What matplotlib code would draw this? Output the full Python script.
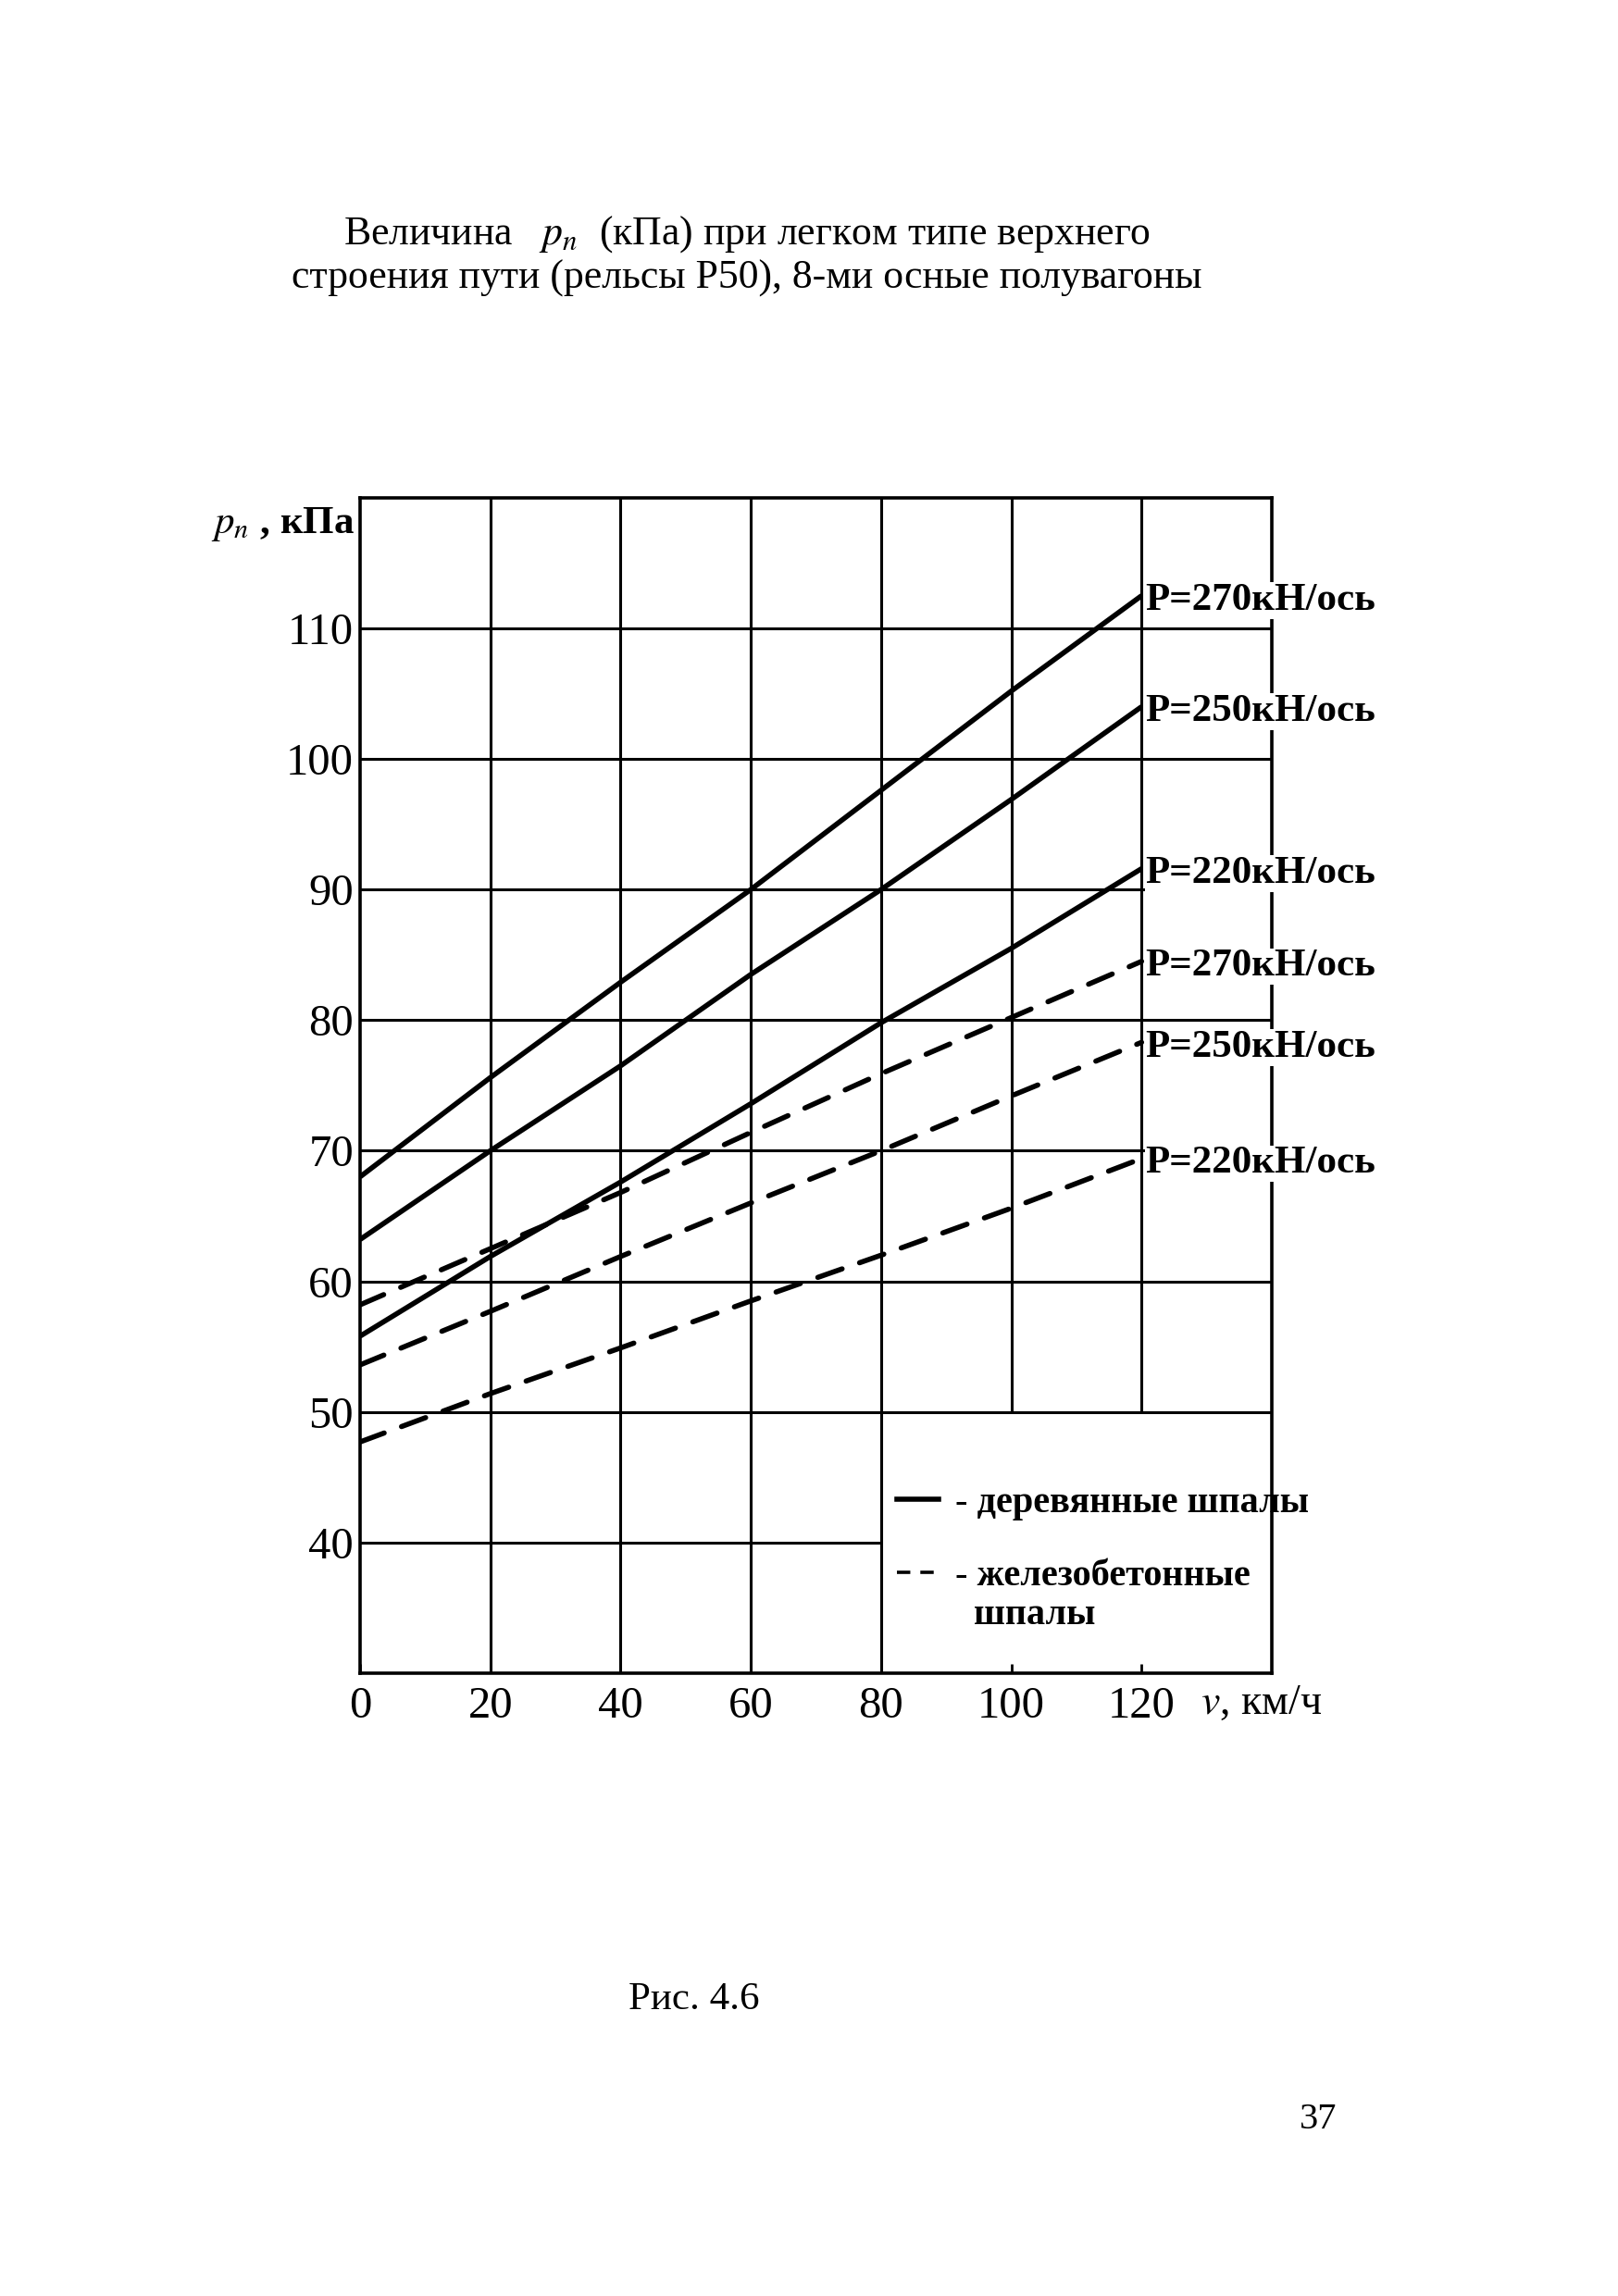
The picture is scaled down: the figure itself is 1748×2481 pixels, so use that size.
import matplotlib
matplotlib.use("Agg")
import matplotlib.pyplot as plt
from matplotlib.lines import Line2D

plt.rcParams['font.family'] = ['Liberation Serif', 'DejaVu Serif']
plt.rcParams['mathtext.fontset'] = 'stix'

# ---- data ----
speed = [0, 20, 40, 60, 80, 100, 120]           # v, km/h
wood_270 = [68.0, 75.6, 82.9, 90.0, 97.6, 105.2, 112.5]
wood_250 = [63.2, 70.0, 76.5, 83.5, 90.0, 96.9, 104.0]
wood_220 = [55.8, 61.9, 67.6, 73.6, 79.8, 85.5, 91.6]
conc_270 = [58.2, 62.5, 66.8, 71.4, 75.9, 80.2, 84.5]
conc_250 = [53.6, 57.7, 61.9, 66.0, 70.0, 74.2, 78.3]
conc_220 = [47.7, 51.4, 54.9, 58.5, 62.0, 65.6, 69.4]
load_labels = ["P=270кН/ось", "P=250кН/ось", "P=220кН/ось"]

x_ticks = [0, 20, 40, 60, 80, 100, 120]
y_ticks = [40, 50, 60, 70, 80, 90, 100, 110]

# grid layout of the nomogram
v_full = [20, 40, 60, 80]
v_part = [100, 120]
h_full = [50, 60, 70, 80, 90, 100, 110]
h_part = [40]

fig = plt.figure(figsize=(17.49, 24.81), dpi=100)
ax = fig.add_axes([0.2224, 0.2713, 0.5632, 0.5119])
ax.set_xlim(0, 140)
ax.set_ylim(30, 120)

LW_GRID = 2.2
LW_LINE = 4.0
for s in ax.spines.values():
    s.set_linewidth(2.6)
    s.set_zorder(3)

ax.vlines(v_full, 30, 120, colors='black', lw=LW_GRID, zorder=1)
ax.vlines(v_part, 50, 120, colors='black', lw=LW_GRID, zorder=1)
ax.hlines(h_full, 0, 140, colors='black', lw=LW_GRID, zorder=1)
ax.hlines(h_part, 0, 80, colors='black', lw=LW_GRID, zorder=1)

dash = (0, (5.0, 3.6))
wood = [wood_270, wood_250, wood_220]
conc = [conc_270, conc_250, conc_220]
LBL_FS = 31
for series, lab in zip(wood, load_labels):
    ax.plot(speed, series, color='black', lw=LW_LINE, solid_capstyle='butt', zorder=4)
    ax.annotate(lab, (speed[-1], series[-1]), xytext=(3, -4), textcoords='offset points',
                ha='left', va='center', fontsize=LBL_FS, fontweight='bold',
                bbox=dict(facecolor='white', edgecolor='none', pad=0.5),
                annotation_clip=False, zorder=6)
for series, lab in zip(conc, load_labels):
    ax.plot(speed, series, color='black', lw=LW_LINE, linestyle=dash,
            dash_capstyle='round', zorder=4)
    ax.annotate(lab, (speed[-1], series[-1]), xytext=(3, -4), textcoords='offset points',
                ha='left', va='center', fontsize=LBL_FS, fontweight='bold',
                bbox=dict(facecolor='white', edgecolor='none', pad=0.5),
                annotation_clip=False, zorder=6)

ax.set_xticks(x_ticks)
ax.set_xticklabels([str(t) for t in x_ticks])
ax.set_yticks(y_ticks)
ax.set_yticklabels([str(t) for t in y_ticks])
ax.tick_params(direction='in', length=7, width=2, labelsize=35, top=False, right=False)
ax.tick_params(axis='x', pad=10)
ax.tick_params(axis='y', pad=5)

# axis titles
ax.text(-0.8, 118.0, r"$p_n$ , кПа", ha='right', va='center', fontsize=31, fontweight='bold')
ax.annotate(r"$v$, км/ч", (129.0, 30), xytext=(0, -24), textcoords='offset points',
            ha='left', va='center', fontsize=33, annotation_clip=False)

# legend
handles = [Line2D([], [], color='black', lw=LW_LINE),
           Line2D([], [], color='black', lw=2.6, linestyle=(0, (4.0, 3.0)))]
leg = ax.legend(handles, ["- деревянные шпалы", "- железобетонные"],
                loc='upper left', bbox_to_anchor=(82.5, 44.3), bbox_transform=ax.transData,
                frameon=False, prop={'weight': 'bold', 'size': 29},
                handlelength=1.1, handletextpad=0.45, labelspacing=1.03, borderaxespad=0,
                borderpad=0)
ax.text(94.2, 34.4, "шпалы", ha='left', va='center', fontsize=29, fontweight='bold')

fig.text(807 / 1749, 1 - 253 / 2481, "Величина   $p_n$  (кПа) при легком типе верхнего",
         ha='center', va='center', fontsize=31.5)
fig.text(807 / 1749, 1 - 301 / 2481, "строения пути (рельсы Р50), 8-ми осные полувагоны",
         ha='center', va='center', fontsize=31.5)
fig.text(750 / 1749, 1 - 2161 / 2481, "Рис. 4.6", ha='center', va='center', fontsize=31)
fig.text(1424 / 1749, 1 - 2290 / 2481, "37", ha='center', va='center', fontsize=29)

fig.savefig("out.png", dpi=100, facecolor='white')
